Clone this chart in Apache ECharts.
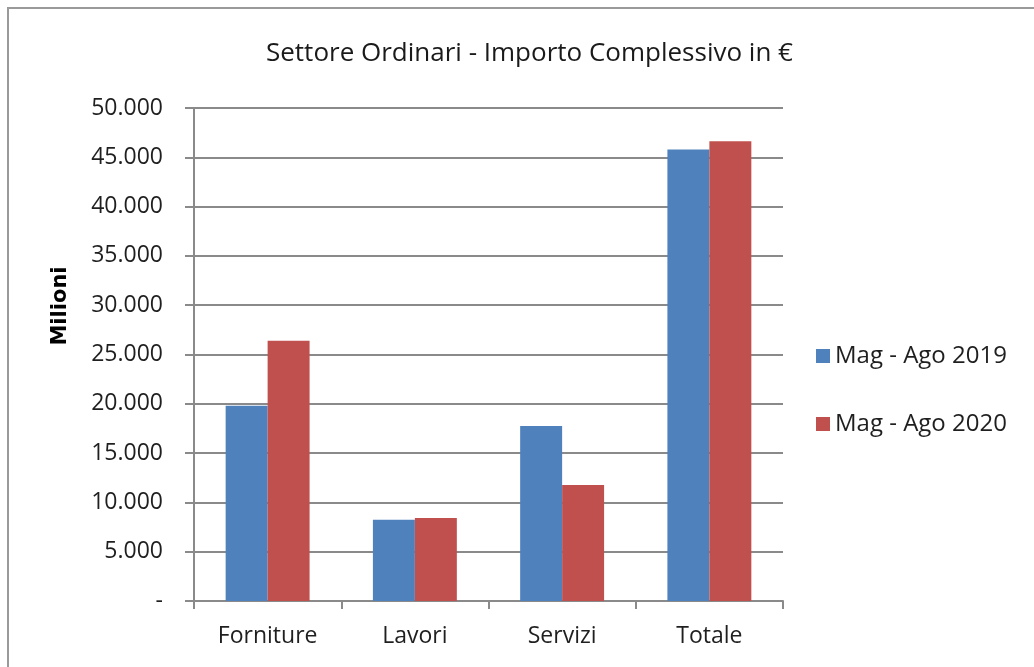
<!DOCTYPE html>
<html>
<head>
<meta charset="utf-8">
<script src="https://cdn.jsdelivr.net/npm/echarts@6/dist/echarts.min.js"></script>
<style>
  html, body { margin: 0; padding: 0; background: #fff; }
  #main { width: 1034px; height: 667px; }
</style>
</head>
<body>
<div id="main"></div>
<script>
// dati (milioni di euro)
const categories = ['Forniture', 'Lavori', 'Servizi', 'Totale'];
const mag2019 = [19800, 8250, 17740, 45780];
const mag2020 = [26400, 8420, 11770, 46620];
const seriesNames = ['Mag - Ago 2019', 'Mag - Ago 2020'];

const chart = echarts.init(document.getElementById('main'));

function fmt(v) {
  if (v === 0) return '-';
  return String(v).replace(/\B(?=(\d{3})+(?!\d))/g, '.');
}

const gridColor = '#8a8a8a';
const textColor = '#1f1f1f';
const font = 'Open Sans';

let option = {
  animation: false,
  backgroundColor: '#fff',
  title: {
    text: 'Settore Ordinari - Importo Complessivo in €',
    left: 266,
    top: 41,
    padding: 0,
    textStyle: {
      fontFamily: font,
      fontWeight: 'normal',
      fontSize: 26,
      color: '#1a1a1a'
    }
  },
  legend: {
    orient: 'vertical',
    left: 816,
    top: 344,
    padding: 0,
    itemWidth: 14,
    itemHeight: 14,
    itemGap: 44,
    icon: 'rect',
    textStyle: {
      fontFamily: font,
      fontSize: 24,
      lineHeight: 24,
      color: textColor
    },
    data: seriesNames
  },
  grid: {
    left: 194,
    right: 251,
    top: 108,
    bottom: 66,
    containLabel: false
  },
  xAxis: {
    type: 'category',
    data: categories,
    axisLine: { lineStyle: { color: gridColor, width: 2 } },
    axisTick: { show: true, length: 8, alignWithLabel: false, lineStyle: { color: gridColor, width: 2 } },
    axisLabel: {
      margin: 24,
      fontFamily: font,
      fontSize: 23,
      color: textColor
    }
  },
  yAxis: {
    type: 'value',
    min: 0,
    max: 50000,
    interval: 5000,
    axisLine: { show: true, lineStyle: { color: gridColor, width: 2 } },
    axisTick: { show: true, length: 9, lineStyle: { color: gridColor, width: 2 } },
    splitLine: { show: true, lineStyle: { color: gridColor, width: 2 } },
    axisLabel: {
      margin: 31,
      fontFamily: font,
      fontSize: 23,
      color: textColor,
      formatter: fmt
    }
  },
  graphic: [{
    type: 'rect',
    shape: { x: 8, y: 8, width: 1100, height: 700 },
    style: { fill: null, stroke: '#9a9a9a', lineWidth: 2 },
    silent: true
  }, {
    type: 'text',
    x: 61,
    y: 306,
    rotation: Math.PI / 2,
    style: {
      text: 'Milioni',
      fontFamily: 'DejaVu Sans',
      fontWeight: 'bold',
      fontSize: 21,
      fill: '#000',
      align: 'center',
      verticalAlign: 'middle'
    },
    silent: true
  }],
  series: [{
    name: seriesNames[0],
    type: 'bar',
    data: mag2019,
    barGap: '0%',
    barCategoryGap: '43%',
    itemStyle: { color: '#4F81BD' }
  }, {
    name: seriesNames[1],
    type: 'bar',
    data: mag2020,
    barGap: '0%',
    barCategoryGap: '43%',
    itemStyle: { color: '#C0504D' }
  }]
};

chart.setOption(option);
</script>
</body>
</html>
